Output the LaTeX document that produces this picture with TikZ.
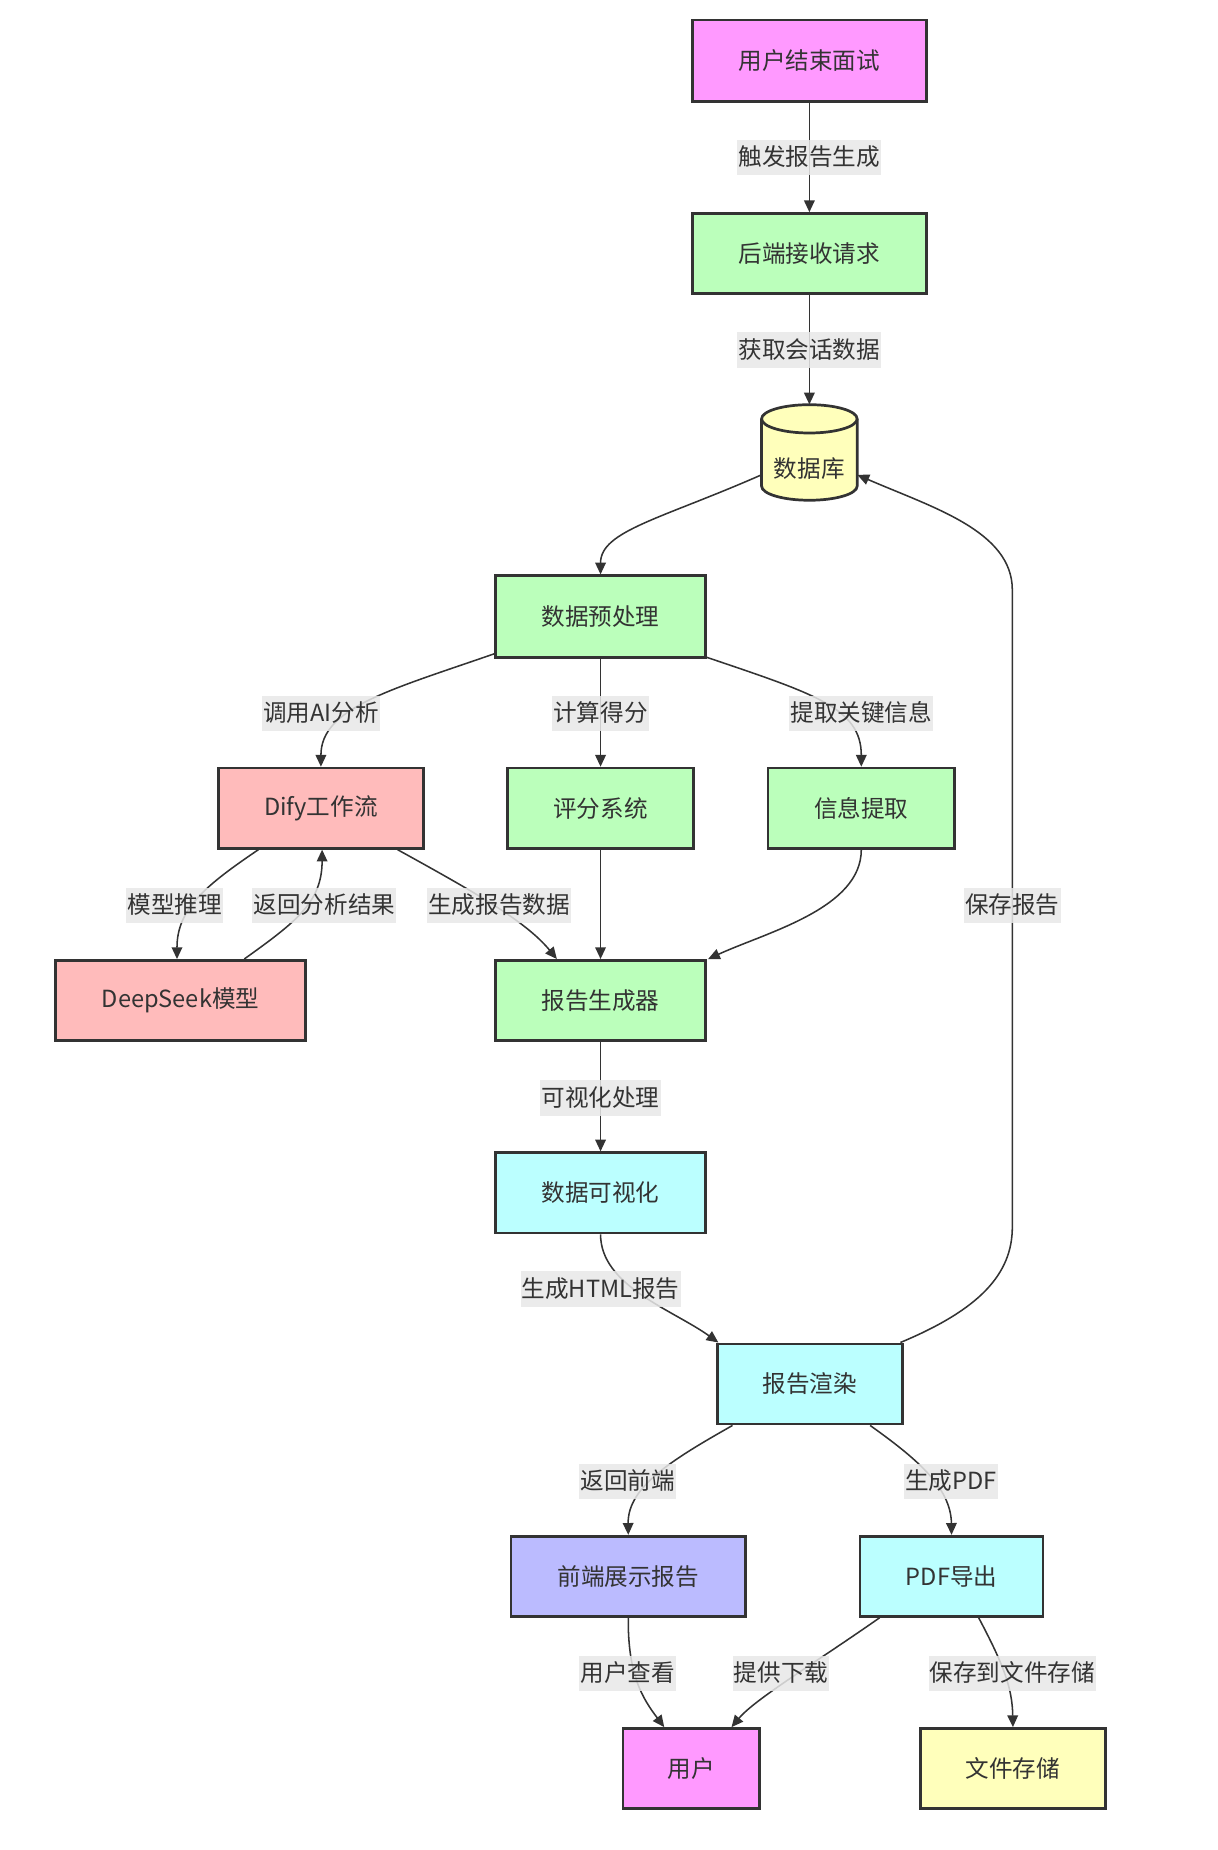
\documentclass[tikz,border=0pt]{standalone}
\usepackage{fontspec}
\setmainfont{Noto Sans CJK SC}
\usetikzlibrary{arrows.meta,calc}
\definecolor{txt}{HTML}{333333}
\definecolor{pinkc}{HTML}{FF99FF}
\definecolor{greenc}{HTML}{BBFFBB}
\definecolor{yellowc}{HTML}{FFFFBB}
\definecolor{redc}{HTML}{FFBBBB}
\definecolor{cyanc}{HTML}{BBFFFF}
\definecolor{bluec}{HTML}{BBBBFF}
\definecolor{lblc}{HTML}{E8E8E8}
\tikzset{
  box/.style={draw=txt, line width=2.3pt, text=txt, inner sep=0pt, minimum height=68pt,
    font=\fontsize{20pt}{24pt}\selectfont},
  lbl/.style={fill=lblc, fill opacity=0.85, text opacity=1, text=txt, inner xsep=1pt, inner ysep=0pt,
    minimum height=30pt, text height=17pt, text depth=3pt, font=\fontsize{20pt}{24pt}\selectfont},
  edge/.style={draw=txt, line width=1.3pt, -{Triangle[length=10pt,width=9pt]}},
}
\begin{document}
\begin{tikzpicture}[x=1pt,y=-1pt]
\useasboundingbox (0,0) rectangle (1032,1568);
\fill[white] (0,0) rectangle (1032,1568);
% nodes
\node[box, fill=pinkc, minimum width=198pt, minimum height=69pt] (start) at (686,51.5) {用户结束面试};
\node[box, fill=greenc, minimum width=198pt] (backend) at (686,215) {后端接收请求};
% cylinder
\path[fill=yellowc, draw=txt, line width=2.3pt] (645.5,355) -- (645.5,412)
  arc[start angle=180,end angle=360,x radius=40.5pt,y radius=12pt] -- (726.5,355)
  arc[start angle=0,end angle=180,x radius=40.5pt,y radius=12pt] -- cycle;
\draw[txt, line width=2.3pt] (645.5,355) arc[start angle=180,end angle=360,x radius=40.5pt,y radius=12pt];
\node[inner sep=0pt, minimum width=81pt, minimum height=81pt] (db) at (686,383.5) {};
\node[text=txt, font=\fontsize{20pt}{24pt}\selectfont] (dbt) at (686,397) {数据库};
\node[box, fill=greenc, minimum width=178pt, minimum height=69pt] (pre) at (509,522.5) {数据预处理};
\node[box, fill=redc, minimum width=174pt] (dify) at (272,685) {Dify工作流};
\node[box, fill=greenc, minimum width=158pt] (eval) at (509,685) {评分系统};
\node[box, fill=greenc, minimum width=158pt] (info) at (730,685) {信息提取};
\node[box, fill=redc, minimum width=212pt] (ds) at (153,848) {DeepSeek模型};
\node[box, fill=greenc, minimum width=178pt] (gen) at (509,848) {报告生成器};
\node[box, fill=cyanc, minimum width=178pt] (vis) at (509,1011) {数据可视化};
\node[box, fill=cyanc, minimum width=157pt] (render) at (686.5,1173) {报告渲染};
\node[box, fill=bluec, minimum width=199pt] (front) at (532.5,1336) {前端展示报告};
\node[box, fill=cyanc, minimum width=155pt] (pdf) at (806.5,1336) {PDF导出};
\node[box, fill=pinkc, minimum width=116pt] (user) at (586,1499) {用户};
\node[box, fill=yellowc, minimum width=157pt] (file) at (858.5,1499) {文件存储};
% edges
\draw[edge] (start.south) -- (backend.north);
\draw[edge] (backend.south) -- (db.north);
\draw[edge] ($(db.west)+(0,19)$) .. controls (560,440) and (509,450) .. (pre.north);
\draw[edge] ($(pre.south west)+(0,-4)$) .. controls (330,585) and (272,600) .. (dify.north);
\draw[edge] (pre.south) -- (eval.north);
\draw[edge] ($(pre.south east)+(0,-1)$) .. controls (690,588) and (730,600) .. (info.north);
\draw[edge] ($(dify.south)+(-53,0)$) .. controls (175,750) and (150,770) .. ($(ds.north)+(-3,0)$);
\draw[edge] ($(ds.north)+(54,0)$) .. controls (250,782) and (273,765) .. ($(dify.south)+(1,0)$);
\draw[edge] ($(dify.south)+(65,0)$) .. controls (400,755) and (445,780) .. ($(gen.north)+(-37,0)$);
\draw[edge] (eval.south) -- (gen.north);
\draw[edge] (info.south) .. controls (730,770) and (650,790) .. ($(gen.north east)+(1,0)$);
\draw[edge] (gen.south) -- (vis.north);
\draw[edge] (vis.south) .. controls (509,1090) and (570,1110) .. ($(render.north west)+(2,0)$);
\draw[edge] ($(render.north east)+(-3,0)$) .. controls (830,1110) and (858,1080) .. (858,1040)
  -- (858,500) .. controls (858,450) and (790,430) .. ($(db.east)+(0,19)$);
\draw[edge] ($(render.south west)+(14,0)$) .. controls (570,1237) and (532,1260) .. (front.north);
\draw[edge] ($(render.south)+(51,0)$) .. controls (775,1235) and (806,1260) .. (pdf.north);
\draw[edge] (front.south) .. controls (532,1420) and (545,1440) .. ($(user.north)+(-23,0)$);
\draw[edge] ($(pdf.south)+(-61,0)$) .. controls (690,1410) and (640,1440) .. ($(user.north)+(34,0)$);
\draw[edge] ($(pdf.south)+(23,0)$) .. controls (850,1410) and (858,1430) .. (file.north);
% labels
\node[lbl] (l1) at (686,133.5) {触发报告生成};
\node[lbl] (l2) at (686,296.5) {获取会话数据};
\node[lbl] (l3) at (272,604.5) {调用AI分析};
\node[lbl] (l4) at (509,604.5) {计算得分};
\node[lbl] (l5) at (730,604.5) {提取关键信息};
\node[lbl] (l6) at (148,767.5) {模型推理};
\node[lbl] (l7) at (275,767.5) {返回分析结果};
\node[lbl] (l8) at (423,767.5) {生成报告数据};
\node[lbl] (l9) at (858,767.5) {保存报告};
\node[lbl] (l10) at (509,930.5) {可视化处理};
\node[lbl] (l11) at (509,1092.5) {生成HTML报告};
\node[lbl] (l12) at (532,1255.5) {返回前端};
\node[lbl] (l13) at (806,1255.5) {生成PDF};
\node[lbl] (l14) at (532,1418.5) {用户查看};
\node[lbl] (l15) at (662,1418.5) {提供下载};
\node[lbl] (l16) at (858,1418.5) {保存到文件存储};
\end{tikzpicture}
\end{document}
